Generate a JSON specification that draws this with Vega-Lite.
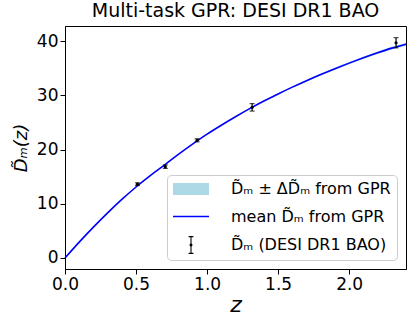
{
  "$schema": "https://vega.github.io/schema/vega-lite/v6.json",
  "width": 341,
  "height": 243,
  "autosize": {"type": "none"},
  "padding": {"left": 65, "top": 26, "right": 7, "bottom": 57},
  "config": {
    "font": "DejaVu Sans",
    "view": {"stroke": "#000000", "strokeWidth": 1},
    "axis": {"grid": false, "domainColor": "#000000", "tickColor": "#000000", "labelColor": "#000000", "titleColor": "#000000", "labelFontSize": 17, "titleFontWeight": "normal", "tickSize": 5, "labelFlush": false, "labelPadding": 2},
    "legend": {"title": null, "orient": "none", "legendX": 102, "legendY": 149, "symbolSize": 144, "symbolOpacity": 1, "symbolStrokeWidth": 0, "labelFontSize": 16, "labelColor": "#000000", "rowPadding": 11.5, "padding": 6, "fillColor": "rgba(255,255,255,0.8)", "strokeColor": "#cccccc", "cornerRadius": 4, "symbolOffset": 10, "labelOffset": 32}
  },
  "title": {"text": "Multi-task GPR: DESI DR1 BAO", "fontSize": 19, "fontWeight": "normal", "anchor": "middle", "color": "#000000", "offset": 5, "frame": "group"},
  "datasets": {
    "gpr": [
      {"z": 0.0, "mean": 0.0, "sd": 0.0},
      {"z": 0.1, "mean": 2.93, "sd": 0.01},
      {"z": 0.2, "mean": 5.7, "sd": 0.02},
      {"z": 0.3, "mean": 8.33, "sd": 0.03},
      {"z": 0.4, "mean": 10.8, "sd": 0.04},
      {"z": 0.5, "mean": 13.1, "sd": 0.05},
      {"z": 0.6, "mean": 15.2, "sd": 0.05},
      {"z": 0.7, "mean": 17.15, "sd": 0.05},
      {"z": 0.8, "mean": 19.15, "sd": 0.05},
      {"z": 0.9, "mean": 21.05, "sd": 0.05},
      {"z": 1.0, "mean": 22.85, "sd": 0.06},
      {"z": 1.1, "mean": 24.5, "sd": 0.07},
      {"z": 1.2, "mean": 26.07, "sd": 0.08},
      {"z": 1.3, "mean": 27.55, "sd": 0.09},
      {"z": 1.4, "mean": 28.95, "sd": 0.1},
      {"z": 1.5, "mean": 30.27, "sd": 0.12},
      {"z": 1.6, "mean": 31.52, "sd": 0.13},
      {"z": 1.7, "mean": 32.71, "sd": 0.15},
      {"z": 1.8, "mean": 33.84, "sd": 0.17},
      {"z": 1.9, "mean": 34.92, "sd": 0.18},
      {"z": 2.0, "mean": 35.95, "sd": 0.2},
      {"z": 2.1, "mean": 36.93, "sd": 0.22},
      {"z": 2.2, "mean": 37.86, "sd": 0.24},
      {"z": 2.3, "mean": 38.72, "sd": 0.26},
      {"z": 2.4, "mean": 39.45, "sd": 0.28}
    ],
    "desi": [
      {"z": 0.51, "D": 13.62, "err": 0.25, "series": "D̃ₘ (DESI DR1 BAO)"},
      {"z": 0.706, "D": 16.85, "err": 0.32, "series": "D̃ₘ (DESI DR1 BAO)"},
      {"z": 0.93, "D": 21.71, "err": 0.28, "series": "D̃ₘ (DESI DR1 BAO)"},
      {"z": 1.317, "D": 27.79, "err": 0.69, "series": "D̃ₘ (DESI DR1 BAO)"},
      {"z": 2.33, "D": 39.71, "err": 0.94, "series": "D̃ₘ (DESI DR1 BAO)"}
    ]
  },
  "encoding": {
    "x": {"field": "z", "type": "quantitative", "scale": {"domain": [0, 2.4], "nice": false, "zero": false}, "axis": {"values": [0, 0.5, 1, 1.5, 2], "format": ".1f", "title": "z", "titleFontSize": 22, "titleFontStyle": "italic", "titlePadding": 2}}
  },
  "layer": [
    {
      "data": {"name": "gpr"},
      "mark": {"type": "errorband", "opacity": 1, "interpolate": "monotone"},
      "encoding": {
        "y": {"field": "mean", "type": "quantitative", "title": "D̃ₘ(z)", "scale": {"domain": [-2.03, 42.8], "nice": false, "zero": false}, "axis": {"values": [0, 10, 20, 30, 40], "format": "d", "titleFontSize": 18, "titleFontStyle": "italic", "titlePadding": 6}},
        "yError": {"field": "sd"},
        "color": {"datum": "D̃ₘ ± ΔD̃ₘ from GPR", "type": "nominal",
          "scale": {"domain": ["D̃ₘ ± ΔD̃ₘ from GPR", "mean D̃ₘ from GPR", "D̃ₘ (DESI DR1 BAO)"], "range": ["#add8e6", "#0000ff", "#000000"]}}
      }
    },
    {
      "data": {"name": "gpr"},
      "mark": {"type": "line", "strokeWidth": 1.6, "interpolate": "monotone"},
      "encoding": {
        "y": {"field": "mean", "type": "quantitative", "title": "D̃ₘ(z)"},
        "color": {"datum": "mean D̃ₘ from GPR", "type": "nominal"}
      }
    },
    {
      "data": {"name": "desi"},
      "mark": {"type": "errorbar", "ticks": {"size": 5, "thickness": 1.2}, "thickness": 1.2, "color": "#000000"},
      "encoding": {
        "y": {"field": "D", "type": "quantitative", "title": "D̃ₘ(z)"},
        "yError": {"field": "err"}
      }
    },
    {
      "data": {"name": "desi"},
      "mark": {"type": "point", "filled": true, "size": 10, "opacity": 1, "color": "#000000"},
      "encoding": {
        "y": {"field": "D", "type": "quantitative", "title": "D̃ₘ(z)"}
      }
    },
    {
      "data": {"name": "desi"},
      "mark": {"type": "point", "filled": true, "opacity": 0},
      "encoding": {
        "y": {"field": "D", "type": "quantitative", "title": "D̃ₘ(z)"},
        "color": {"field": "series", "type": "nominal"},
        "shape": {"field": "series", "type": "nominal",
          "scale": {"domain": ["D̃ₘ ± ΔD̃ₘ from GPR", "mean D̃ₘ from GPR", "D̃ₘ (DESI DR1 BAO)"],
            "range": ["M-3,-1H3V1H-3Z", "M-3,-0.13H3V0.13H-3Z", "M-0.09,-1.4H0.09V1.4H-0.09Z M-0.4,-1.5H0.4V-1.3H-0.4Z M-0.4,1.3H0.4V1.5H-0.4Z M-0.25,0A0.25,0.25 0 1,1 0.25,0A0.25,0.25 0 1,1 -0.25,0Z"]}}
      }
    }
  ]
}
